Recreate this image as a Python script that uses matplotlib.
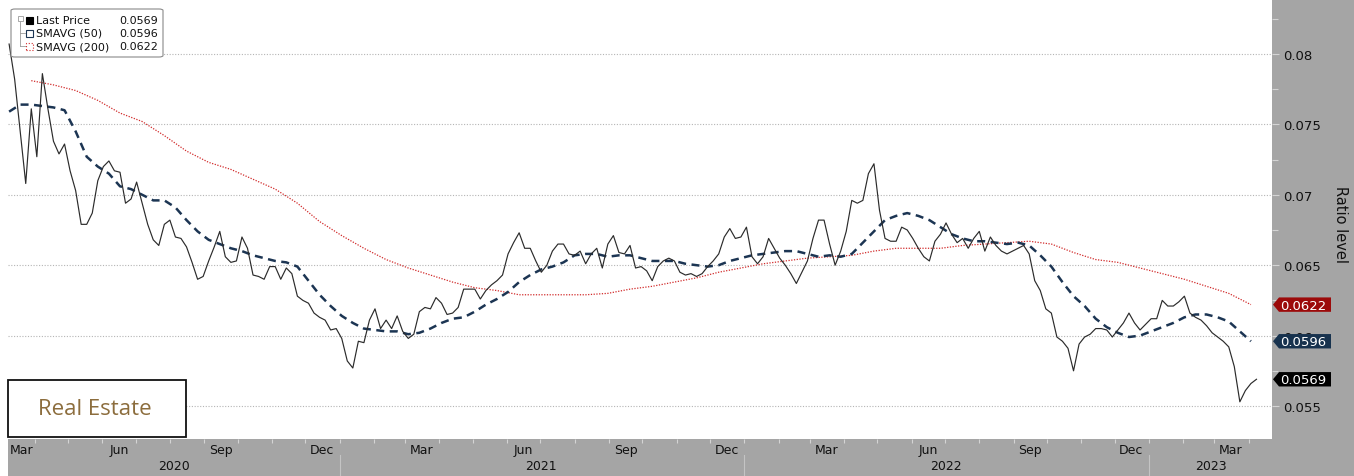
import numpy as np
import pandas as pd
import matplotlib
matplotlib.use("Agg")
import matplotlib.pyplot as plt
from matplotlib.patches import Rectangle, FancyBboxPatch, Polygon
from matplotlib.transforms import blended_transform_factory, ScaledTranslation

# ---- data ----
price_start = "2020-03-09"   # 5-day steps
price = [
    0.0807, 0.0782, 0.0745, 0.0708, 0.0761, 0.0727, 0.0786, 0.0761, 0.0738, 0.0729,
    0.0736, 0.0717, 0.0703, 0.0679, 0.0679, 0.0687, 0.0710, 0.0720, 0.0724, 0.0717,
    0.0716, 0.0694, 0.0697, 0.0709, 0.0694, 0.0679, 0.0668, 0.0664, 0.0679, 0.0682,
    0.0670, 0.0669, 0.0663, 0.0652, 0.0640, 0.0642, 0.0653, 0.0663, 0.0674, 0.0656,
    0.0652, 0.0653, 0.0670, 0.0662, 0.0643, 0.0642, 0.0640, 0.0649, 0.0649, 0.0640,
    0.0648, 0.0644, 0.0628, 0.0625, 0.0623, 0.0616, 0.0613, 0.0611, 0.0604, 0.0605,
    0.0598, 0.0582, 0.0577, 0.0596, 0.0595, 0.0611, 0.0619, 0.0605, 0.0611, 0.0605,
    0.0614, 0.0603, 0.0598, 0.0601, 0.0617, 0.0620, 0.0619, 0.0627, 0.0623, 0.0615,
    0.0616, 0.0620, 0.0633, 0.0633, 0.0633, 0.0626, 0.0632, 0.0636, 0.0639, 0.0643,
    0.0658, 0.0666, 0.0673, 0.0662, 0.0662, 0.0653, 0.0645, 0.0650, 0.0660, 0.0665,
    0.0665, 0.0658, 0.0657, 0.0660, 0.0651, 0.0658, 0.0662, 0.0648, 0.0665, 0.0671,
    0.0659, 0.0658, 0.0664, 0.0648, 0.0649, 0.0646, 0.0639, 0.0649, 0.0653, 0.0655,
    0.0653, 0.0645, 0.0643, 0.0644, 0.0642, 0.0644, 0.0649, 0.0653, 0.0658, 0.0670,
    0.0676, 0.0669, 0.0670, 0.0677, 0.0656, 0.0651, 0.0656, 0.0669, 0.0662, 0.0655,
    0.0650, 0.0644, 0.0637, 0.0645, 0.0653, 0.0669, 0.0682, 0.0682, 0.0665, 0.0650,
    0.0660, 0.0674, 0.0696, 0.0694, 0.0696, 0.0715, 0.0722, 0.0689, 0.0669, 0.0667,
    0.0667, 0.0677, 0.0675, 0.0669, 0.0662, 0.0656, 0.0653, 0.0667, 0.0672, 0.0680,
    0.0672, 0.0666, 0.0669, 0.0662, 0.0669, 0.0674, 0.0660, 0.0670, 0.0664, 0.0660,
    0.0658, 0.0660, 0.0662, 0.0664, 0.0658, 0.0639, 0.0632, 0.0619, 0.0616, 0.0599,
    0.0596, 0.0591, 0.0575, 0.0594, 0.0599, 0.0601, 0.0605, 0.0605, 0.0604, 0.0599,
    0.0604, 0.0609, 0.0616, 0.0609, 0.0604, 0.0608, 0.0612, 0.0612, 0.0625, 0.0621,
    0.0621, 0.0624, 0.0628, 0.0616, 0.0613, 0.0611, 0.0607, 0.0602, 0.0599, 0.0596,
    0.0592, 0.0578, 0.0553, 0.0561, 0.0566, 0.0569,
]

sma50_start = "2020-03-09"   # 10-day steps
sma50 = [
    0.0759, 0.0764, 0.0764, 0.0763, 0.0762, 0.0760, 0.0745, 0.0727, 0.0720, 0.0715,
    0.0706, 0.0704, 0.0700, 0.0696, 0.0696, 0.0691, 0.0682, 0.0674, 0.0668, 0.0665,
    0.0662, 0.0660, 0.0657, 0.0655, 0.0653, 0.0652, 0.0649, 0.0639, 0.0629, 0.0621,
    0.0614, 0.0609, 0.0605, 0.0604, 0.0603, 0.0603, 0.0601, 0.0602, 0.0605, 0.0609,
    0.0612, 0.0613, 0.0617, 0.0622, 0.0626, 0.0631, 0.0638, 0.0643, 0.0647, 0.0649,
    0.0652, 0.0657, 0.0658, 0.0658, 0.0656, 0.0657, 0.0657, 0.0655, 0.0653, 0.0653,
    0.0653, 0.0651, 0.0650, 0.0649, 0.0650, 0.0653, 0.0655, 0.0657, 0.0658, 0.0659,
    0.0660, 0.0660, 0.0658, 0.0656, 0.0657, 0.0656, 0.0658, 0.0666, 0.0674, 0.0682,
    0.0685, 0.0687, 0.0685, 0.0682, 0.0677, 0.0672, 0.0669, 0.0667, 0.0667, 0.0666,
    0.0665, 0.0666, 0.0664, 0.0657, 0.0649, 0.0638, 0.0628, 0.0621, 0.0612, 0.0606,
    0.0602, 0.0599, 0.0600, 0.0603, 0.0606, 0.0609, 0.0613, 0.0615, 0.0615, 0.0613,
    0.0610, 0.0603, 0.0596,
]

sma200_start = "2020-03-29"  # 20-day steps
sma200 = [
    0.0781, 0.0778, 0.0774, 0.0767, 0.0758, 0.0752, 0.0742, 0.0731, 0.0723, 0.0718,
    0.0711, 0.0704, 0.0694, 0.0681, 0.0671, 0.0662, 0.0654, 0.0648, 0.0643, 0.0638,
    0.0634, 0.0632, 0.0629, 0.0629, 0.0629, 0.0629, 0.0630, 0.0633, 0.0635, 0.0638,
    0.0641, 0.0645, 0.0648, 0.0651, 0.0653, 0.0655, 0.0656, 0.0657, 0.0660, 0.0662,
    0.0662, 0.0662, 0.0664, 0.0665, 0.0666, 0.0667, 0.0665, 0.0659, 0.0654, 0.0652,
    0.0648, 0.0644, 0.0640, 0.0635, 0.0630, 0.0622,
]

y_ticks = [0.055, 0.06, 0.065, 0.07, 0.075, 0.08]
y_tick_labels = ["0.055", "0.06", "0.065", "0.07", "0.075", "0.08"]
years = [2020, 2021, 2022, 2023]
month_names = {3: "Mar", 6: "Jun", 9: "Sep", 12: "Dec"}

GREY = "#a5a5a5"
NAVY = "#1c3553"
RED = "#d12a2a"
TAG_RED = "#9c0a0a"
TAG_NAVY = "#17324e"

W, H = 1354, 477
fig = plt.figure(figsize=(W / 100, H / 100), dpi=100, facecolor="white")


def fx(px):
    return px / W


def fy(py):
    return 1 - py / H


# grey frame: right panel + bottom band (behind the axes)
fig.patches.append(Rectangle((fx(1272), 0), 1 - fx(1272), 1, transform=fig.transFigure,
                             facecolor=GREY, edgecolor="none", zorder=-5))
fig.patches.append(Rectangle((fx(8), 0), 1 - fx(8), fy(440), transform=fig.transFigure,
                             facecolor=GREY, edgecolor="none", zorder=-5))

ax = fig.add_axes([fx(8), fy(440), fx(1272) - fx(8), fy(8) - fy(440)])
ax.set_facecolor("white")
for s in ax.spines.values():
    s.set_visible(False)

d_price = pd.date_range(price_start, periods=len(price), freq="5D")
d_50 = pd.date_range(sma50_start, periods=len(sma50), freq="10D")
d_200 = pd.date_range(sma200_start, periods=len(sma200), freq="20D")

ax.plot(d_200, sma200, color=RED, lw=0.9, ls=(0, (1, 1.2)), zorder=3)
ax.plot(d_50, sma50, color=NAVY, lw=1.8, ls=(0, (3.2, 2.2)), zorder=4)
ax.plot(d_price, price, color="#2b2b2b", lw=0.85, zorder=5)

ax.set_xlim(pd.Timestamp("2020-03-08"), pd.Timestamp("2023-04-22"))
ax.set_ylim(0.05266, 0.08333)

# y axis on the right
ax.yaxis.tick_right()
ax.set_yticks(y_ticks)
ax.set_yticklabels(y_tick_labels, fontsize=9.5, color="#111111")
ax.set_yticks([0.0575, 0.0625, 0.0675, 0.0725, 0.0775, 0.0825], minor=True)
ax.tick_params(axis="y", which="major", length=5, width=0.8, color="#d4d4d4", pad=3)
ax.tick_params(axis="y", which="minor", length=4, width=0.8, color="#d4d4d4")
ax.grid(axis="y", which="major", color="#b5b5b5", lw=0.8, ls=(0, (1, 1.5)))
fig.text(fx(1341), fy(225), "Ratio level", rotation=270, ha="center", va="center",
         fontsize=10.5, color="#111111")

# x axis: month boundaries as ticks, labels drawn by hand
month_starts = pd.date_range("2020-04-01", "2023-04-01", freq="MS")
ax.set_xticks(month_starts)
ax.set_xticklabels([])
ax.tick_params(axis="x", which="major", length=3, width=0.8, color="#d4d4d4")

tr = blended_transform_factory(ax.transData, ax.transAxes)
for yr in years:
    for m, name in month_names.items():
        d = pd.Timestamp(year=yr, month=m, day=16)
        if pd.Timestamp("2020-03-01") <= d <= pd.Timestamp("2023-03-31"):
            ha = "center"
            if yr == 2020 and m == 3:
                d, ha = pd.Timestamp("2020-03-10"), "left"
            ax.text(d, -0.024, name, transform=tr, ha=ha, va="center",
                    fontsize=9, color="#111111", clip_on=False)

year_mid = {2020: "2020-08-05", 2021: "2021-07-02", 2022: "2022-07-02", 2023: "2023-02-26"}
for yr in years:
    ax.text(pd.Timestamp(year_mid[yr]), -0.061, str(yr), transform=tr, ha="center",
            va="center", fontsize=9, color="#111111", clip_on=False)
for yr in years[1:]:
    ax.plot([pd.Timestamp(f"{yr}-01-01")] * 2, [-0.037, -0.09], transform=tr,
            color="#c4c4c4", lw=0.8, clip_on=False)

# last-value tags: small left-pointing flags anchored at the right edge of the axes
tr_y = blended_transform_factory(ax.transAxes, ax.transData)
for val, col in [(0.0622, TAG_RED), (0.0596, TAG_NAVY), (0.0569, "black")]:
    anchor = fig.dpi_scale_trans + ScaledTranslation(1.0, val, tr_y)
    flag = Polygon([(0.01, 0), (0.07, 0.072), (0.59, 0.072), (0.59, -0.072), (0.07, -0.072)],
                   closed=True, transform=anchor, facecolor=col, edgecolor="none",
                   clip_on=False, zorder=10)
    ax.add_patch(flag)
    ax.text(0.085, -0.004, f"{val:.4f}", transform=anchor, ha="left", va="center",
            fontsize=9.5, color="white", clip_on=False, zorder=11)

# legend box
fig.patches.append(FancyBboxPatch((fx(11), fy(58)), fx(152), 48 / H,
                                  boxstyle="round,pad=0,rounding_size=0.003",
                                  transform=fig.transFigure, facecolor="white",
                                  edgecolor="#8a8a8a", lw=0.8, zorder=20))
rows = [("Last Price", "0.0569", "black", "black", "-"),
        ("SMAVG (50)", "0.0596", "white", NAVY, "-"),
        ("SMAVG (200)", "0.0622", "white", RED, ":")]
for i, (lab, v, fc, ec, ls) in enumerate(rows):
    yy = 21 + i * 13
    fig.patches.append(Rectangle((fx(26), fy(yy + 3.5)), fx(7), 7 / H, transform=fig.transFigure,
                                 facecolor=fc, edgecolor=ec, lw=0.8, ls=ls, zorder=21))
    fig.text(fx(36), fy(yy), lab, ha="left", va="center", fontsize=8, color="#111111", zorder=22)
    fig.text(fx(158), fy(yy), v, ha="right", va="center", fontsize=8, color="#111111", zorder=22)
fig.lines.append(plt.Line2D([fx(20), fx(20)], [fy(22), fy(47)], transform=fig.transFigure,
                            color="#9a9a9a", lw=0.6, zorder=21))
for yy in (34, 47):
    fig.lines.append(plt.Line2D([fx(20), fx(25)], [fy(yy), fy(yy)], transform=fig.transFigure,
                                color="#9a9a9a", lw=0.6, zorder=21))
fig.patches.append(Rectangle((fx(17.5), fy(22)), fx(5), 5 / H, transform=fig.transFigure,
                             facecolor="white", edgecolor="#9a9a9a", lw=0.6, zorder=22))

# title box
fig.patches.append(Rectangle((fx(8), fy(438)), fx(178), 57 / H, transform=fig.transFigure,
                             facecolor="white", edgecolor="#111111", lw=1.3, zorder=20))
fig.text(fx(95), fy(410), "Real Estate", ha="center", va="center", fontsize=16,
         family="Open Sans", color="#8c6d3d", zorder=21)

fig.savefig("out.png", dpi=100, facecolor="white")
